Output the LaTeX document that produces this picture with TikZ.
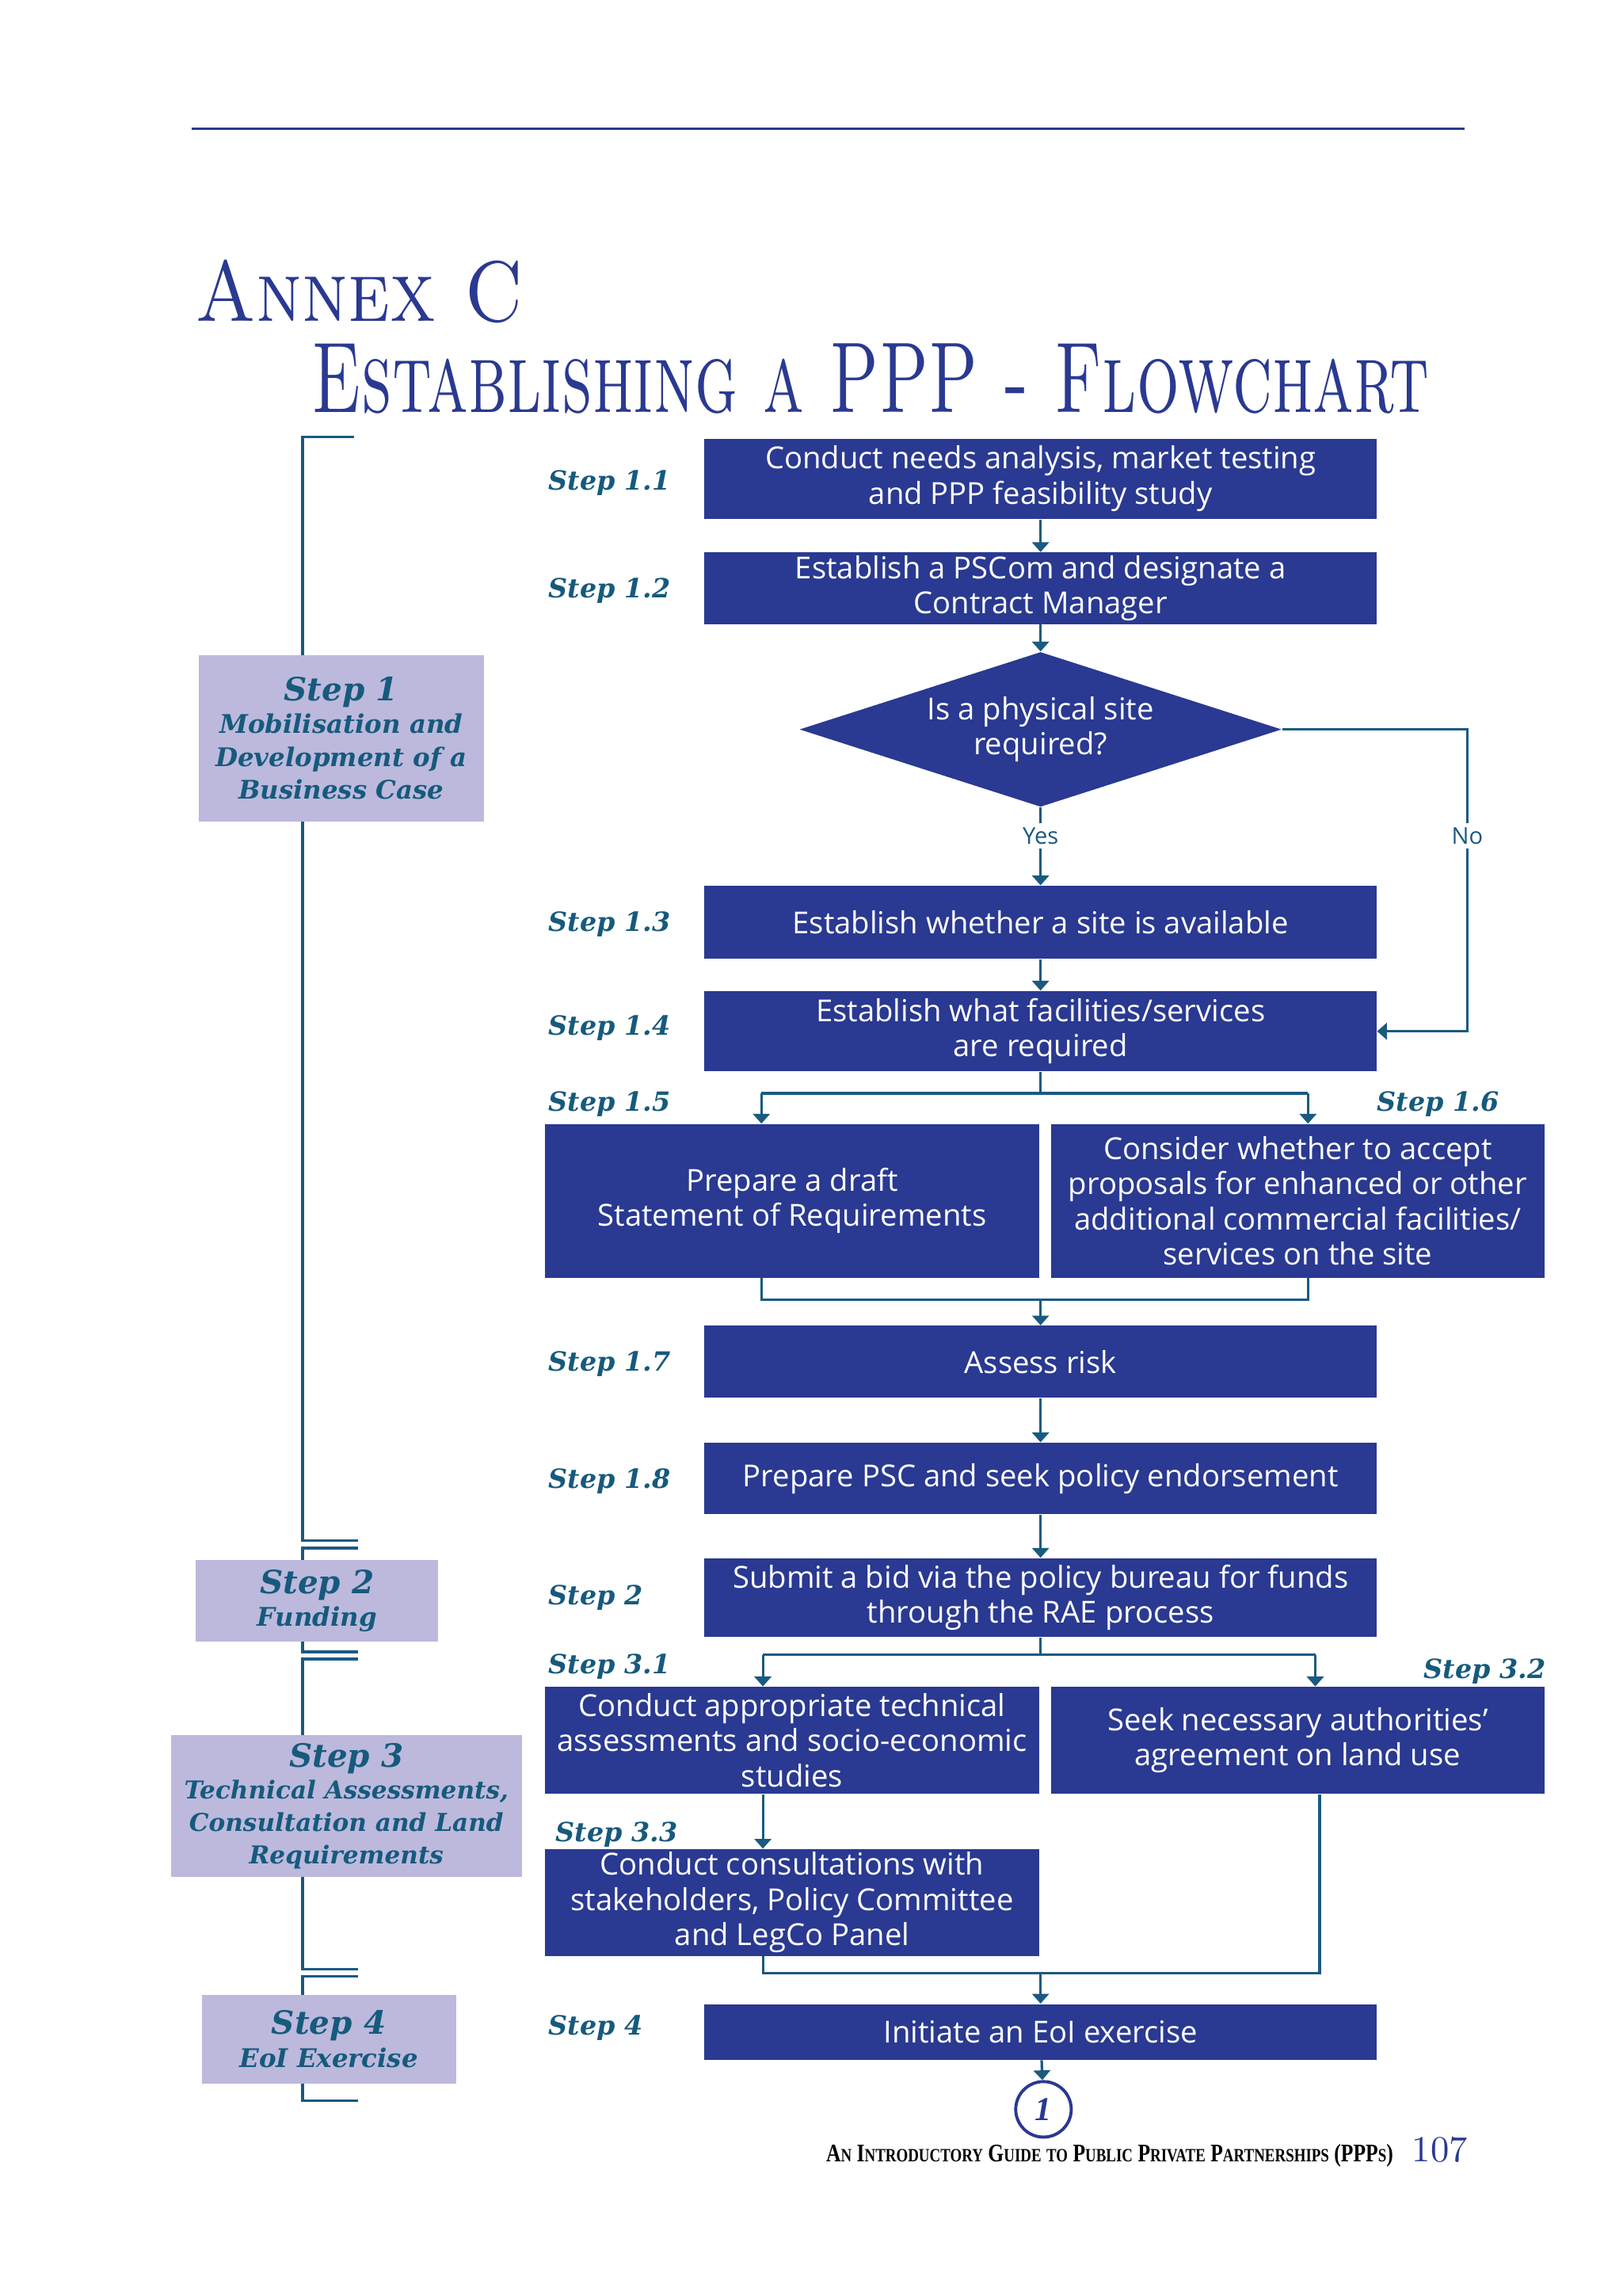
\documentclass[tikz,border=0pt]{standalone}
\usepackage{fontspec}
\newfontfamily\boxfont{Open Sans}
\newfontfamily\stepfont{DejaVu Serif}
\newfontfamily\footfont{Liberation Serif}
\usetikzlibrary{shapes.geometric, arrows.meta}
\usetikzlibrary{calc}
\usetikzlibrary{positioning}
\definecolor{boxblue}{RGB}{42,57,145}
\definecolor{lineteal}{RGB}{26,90,128}
\definecolor{stagelav}{RGB}{188,185,221}
\definecolor{steptext}{RGB}{22,90,124}
\newcommand\stepbig{\fontsize{12.5}{14.5}\selectfont}
\newcommand\lowcap[1]{{\fontsize{7.4}{8}\selectfont #1}}
\tikzstyle{process} = [rectangle, fill=boxblue, text=white, align=center, inner xsep=2pt, inner ysep=0pt, minimum width=9.2cm, font=\boxfont\fontsize{11.8}{13.7}\selectfont]
\tikzstyle{halfbox} = [process, minimum width=6.76cm]
\tikzstyle{decision} = [diamond, aspect=3.1, fill=boxblue, text=white, align=center, inner sep=0pt, minimum width=6.6cm, minimum height=2.12cm, font=\boxfont\fontsize{11.8}{13.7}\selectfont]
\tikzstyle{stage} = [rectangle, fill=stagelav, text=steptext, align=center, inner sep=0pt, font=\stepfont\bfseries\itshape\fontsize{10}{12.8}\selectfont]
\tikzstyle{steplabel} = [text=steptext, inner sep=0pt, anchor=base west, font=\stepfont\bfseries\itshape\fontsize{10.3}{12}\selectfont]
\tikzstyle{answer} = [text=lineteal, inner sep=1.5pt, font=\boxfont\fontsize{9}{10}\selectfont]
\tikzstyle{line} = [line width=1pt, draw=lineteal]
\tikzstyle{arrow} = [line, -{Triangle[width=6.5pt,length=3.8pt]}]
\tikzstyle{bracket} = [line width=1.1pt, draw=lineteal]
\begin{document}
\begin{tikzpicture}[x=0.02cm, y=-0.02cm]
    \useasboundingbox (0,0) rectangle (1110,1570.7);

    \draw [draw=boxblue, line width=1.1pt] (131,88) -- (1002,88); %% top rule
    \node[anchor=base west, inner sep=0pt, text=boxblue] (annex) at (133,220) {\resizebox{4.5cm}{0.84cm}{\textsc{Annex C}}};
    \node[anchor=base west, inner sep=0pt, text=boxblue] (title) at (213,282) {\resizebox{15.3cm}{0.94cm}{\textsc{Establishing a PPP - Flowchart}}};

    %% stage brackets on the left
    \draw [bracket] (242,299) -- (207,299) -- (207,1054) -- (245,1054);
    \draw [bracket] (245,1059) -- (207,1059) -- (207,1130) -- (245,1130);
    \draw [bracket] (245,1135) -- (207,1135) -- (207,1347) -- (245,1347);
    \draw [bracket] (245,1352) -- (207,1352) -- (207,1437) -- (245,1437);

    \node[stage, minimum width=3.9cm, minimum height=2.28cm] (stage1) at (233.5,505) {{\stepbig Step 1}\\Mobilisation and\\Development of a\\Business Case};
    \node[stage, minimum width=3.32cm, minimum height=1.12cm] (stage2) at (217,1095) {{\stepbig Step 2}\\Funding};
    \node[stage, minimum width=4.8cm, minimum height=1.94cm, font=\stepfont\bfseries\itshape\fontsize{9.6}{12.6}\selectfont] (stage3) at (237,1235.5) {{\stepbig Step 3}\\Technical Assessments,\\Consultation and Land\\Requirements};
    \node[stage, minimum width=3.48cm, minimum height=1.22cm] (stage4) at (225,1395) {{\stepbig Step 4}\\EoI Exercise};

    %% main column
    \node[process, minimum height=1.1cm] (s11) at (712,327.5) {Conduct needs analysis, market testing\\and PPP feasibility study};
    \node[process, minimum height=0.98cm] (s12) at (712,402.5) {Establish a PSCom and designate a\\Contract Manager};
    \node[decision] (site) at (712,499) {Is a physical site\\required?};
    \node[answer] (yes) at (712,572) {Yes};
    \node[answer] (no) at (1004,572) {No};
    \node[process, minimum height=1.0cm] (s13) at (712,631) {Establish whether a site is available};
    \node[process, minimum height=1.1cm] (s14) at (712,705.5) {Establish what facilities/services\\are required};
    \node[halfbox, minimum height=2.1cm] (s15) at (542,821.5) {Prepare a draft\\Statement of Requirements};
    \node[halfbox, minimum height=2.1cm] (s16) at (888,821.5) {Consider whether to accept\\proposals for enhanced or other\\additional commercial facilities/\\services on the site};
    \node[process, minimum height=0.98cm] (s17) at (712,931.5) {Assess risk};
    \node[process, minimum height=0.98cm] (s18) at (712,1011.5) {Prepare PSC and seek policy endorsement};
    \node[process, minimum height=1.08cm] (s2) at (712,1093) {Submit a bid via the policy bureau for funds\\through the RAE process};
    \node[halfbox, minimum height=1.46cm] (s31) at (542,1190.5) {Conduct appropriate technical\\assessments and socio-economic\\studies};
    \node[halfbox, minimum height=1.46cm] (s32) at (888,1190.5) {Seek necessary authorities’\\agreement on land use};
    \node[halfbox, minimum height=1.46cm] (s33) at (542,1301.5) {Conduct consultations with\\stakeholders, Policy Committee\\and LegCo Panel};
    \node[process, minimum height=0.76cm] (s4) at (712,1390) {Initiate an EoI exercise};
    \node[circle, draw=boxblue, line width=1.2pt, minimum size=0.76cm, inner sep=0pt, text=boxblue, font=\footfont\bfseries\itshape\fontsize{13}{13}\selectfont] (cont) at (714,1443) {1};

    %% step labels
    \node[steplabel] (l11) at (375,335) {Step 1.1};
    \node[steplabel] (l12) at (375,409) {Step 1.2};
    \node[steplabel] (l13) at (375,637) {Step 1.3};
    \node[steplabel] (l14) at (375,708) {Step 1.4};
    \node[steplabel] (l15) at (375,760) {Step 1.5};
    \node[steplabel] (l16) at (942,760) {Step 1.6};
    \node[steplabel] (l17) at (375,938) {Step 1.7};
    \node[steplabel] (l18) at (375,1018) {Step 1.8};
    \node[steplabel] (l2) at (375,1098) {Step 2};
    \node[steplabel] (l31) at (375,1145) {Step 3.1};
    \node[steplabel] (l32) at (974,1148) {Step 3.2};
    \node[steplabel] (l33) at (380,1260) {Step 3.3};
    \node[steplabel] (l4) at (375,1392) {Step 4};

    %% connectors
    \draw [arrow] (s11) -- (s12);
    \draw [arrow] (s12) -- (site);
    \draw [line] (site) -- (yes);
    \draw [arrow] (yes) -- (s13);
    \draw [line] (site.east) -| (no);
    \draw [arrow] (no) |- (s14.east); %% no branch
    \draw [arrow] (s13) -- (s14);

    \coordinate (fork1) at (712,748);
    \coordinate (fork1l) at (521,748);
    \coordinate (fork1r) at (895,748);
    \draw [line] (s14) -- (fork1);
    \draw [line] (fork1l) -- (fork1r);
    \draw [arrow] (fork1l) -- (fork1l |- s15.north);
    \draw [arrow] (fork1r) -- (fork1r |- s16.north);

    \coordinate (join1) at (712,889);
    \coordinate (join1l) at (521,889);
    \coordinate (join1r) at (895,889);
    \draw [line] (join1l |- s15.south) -- (join1l) -- (join1r) -- (join1r |- s16.south);
    \draw [arrow] (join1) -- (s17);
    \draw [arrow] (s17) -- (s18);
    \draw [arrow] (s18) -- (s2);

    \coordinate (fork2) at (712,1132);
    \coordinate (fork2l) at (522,1132);
    \coordinate (fork2r) at (900,1132);
    \draw [line] (s2) -- (fork2);
    \draw [line] (fork2l) -- (fork2r);
    \draw [arrow] (fork2l) -- (fork2l |- s31.north);
    \draw [arrow] (fork2r) -- (fork2r |- s32.north);
    \draw [arrow] (fork2l |- s31.south) -- (fork2l |- s33.north);

    \coordinate (join2) at (712,1350);
    \coordinate (join2l) at (522,1350);
    \coordinate (join2r) at (903,1350);
    \draw [line] (join2l |- s33.south) -- (join2l) -- (join2r) -- (join2r |- s32.south);
    \draw [arrow] (join2) -- (s4);
    \draw [arrow] (s4) -- (cont);

    %% footer
    \node[anchor=base west, inner sep=0pt] (guide) at (565,1479) {\resizebox{7.76cm}{0.24cm}{\footfont\bfseries A\lowcap{N} I\lowcap{NTRODUCTORY} G\lowcap{UIDE} \lowcap{TO} P\lowcap{UBLIC} P\lowcap{RIVATE} P\lowcap{ARTNERSHIPS} (PPP\lowcap{S})}};
    \node[anchor=base west, inner sep=0pt, text=boxblue] (page) at (966,1479) {\resizebox{0.76cm}{0.34cm}{107}};
\end{tikzpicture}
\end{document}
